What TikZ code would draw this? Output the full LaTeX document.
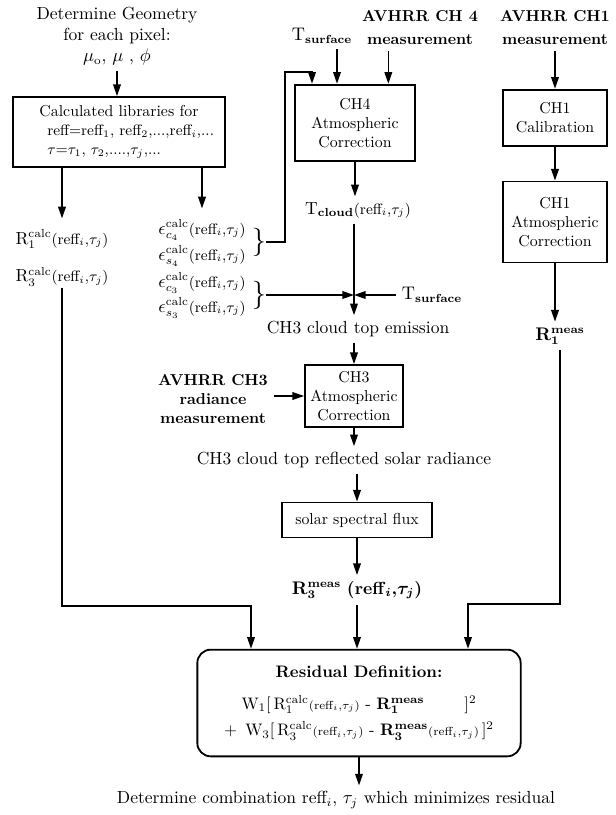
\documentclass[tikz,border=0pt]{standalone}
\usepackage{bm}
\usetikzlibrary{arrows.meta,calc}
\tikzset{>={Triangle[length=7pt,width=4.6pt]},
  every node/.style={font=\fontsize{10.5}{12.6}\selectfont,align=center},
  procbox/.style={draw,line width=1.1pt,inner sep=2pt,font=\fontsize{9.5}{11.5}\selectfont},
  flow/.style={->,line width=.9pt},
  heading/.style={font=\fontsize{9.5}{11.5}\selectfont\bfseries},
  calclbl/.style={inner ysep=.5pt},
  brk/.style={font=\fontsize{17}{17}\selectfont,inner sep=0pt}}

\begin{document}
\begin{tikzpicture}[x=.6pt,y=-.6pt]
% coordinates are pixels of the 616x815 sheet, y downwards
\useasboundingbox (0,0) rectangle (616,815);
% library branch
\node (geom) at (117,36) {Determine Geometry\\for each pixel:\\$\mu_{\mathrm o}$, $\mu$ , $\phi$};
\node[procbox,minimum width=127pt,minimum height=42pt] (libs) at (119,132) {Calculated libraries for\\
  \makebox[86pt][l]{\small reff=reff$_1$, reff$_2$,...,reff$_i$,...}\\
  \makebox[86pt][l]{\small$\tau$=$\tau_1$, $\tau_2$,....,$\tau_j$,...}};
\node[calclbl] (rcalc) at (62,258) {R$^{\rm calc}_1${\small(reff$_i$,$\tau_j$)}\\[10pt]R$^{\rm calc}_3${\small(reff$_i$,$\tau_j$)}};
\node[calclbl] (ec4) at (202,230) {$\epsilon^{\rm calc}_{c_4}${\small(reff$_i$,$\tau_j$)}};
\node[calclbl] (es4) at (202,256) {$\epsilon^{\rm calc}_{s_4}${\small(reff$_i$,$\tau_j$)}};
\node[calclbl] (ec3) at (202,283) {$\epsilon^{\rm calc}_{c_3}${\small(reff$_i$,$\tau_j$)}};
\node[calclbl] (es3) at (202,308) {$\epsilon^{\rm calc}_{s_3}${\small(reff$_i$,$\tau_j$)}};
\node[brk] (bra) at (259,242) {\}};
\node[brk] (brb) at (259,295) {\}};
\draw[flow] (geom.south) -- (geom.south |- libs.north);
\draw[flow,shorten >=6pt] (libs.south -| rcalc) -- (rcalc.north);
\draw[flow,shorten >=6pt] (libs.south -| ec4) -- (ec4.north);
% channel 4 branch
\node (tsurfa) at (322,36) {$\mathrm{T}_{\mathbf{surface}}$};
\node[heading] (avhrr4) at (420,28) {AVHRR CH 4\\[2.3pt]measurement};
\node[procbox,minimum width=72pt,minimum height=46pt] (ch4) at (355,123) {CH4\\Atmospheric\\Correction};
\node (tcloud) at (358,210) {T$_{\mathbf{cloud}}${\small(reff$_i$,$\tau_j$)}};
\coordinate (fbk) at (285,72);
\coordinate (junc) at (354,295);
\node (tsurfb) at (432,295) {$\mathrm{T}_{\mathbf{surface}}$};
\node (emis) at (358,329) {CH3 cloud top emission};
\draw[flow] ([xshift=9pt]tsurfa.south) -- ([xshift=9pt]tsurfa.south |- ch4.north);
\draw[flow] ([xshift=-19pt]avhrr4.south) -- ([xshift=-19pt]avhrr4.south |- ch4.north);
\draw[flow] (bra.east) -| (fbk) -| ($(ch4.north)+(-43,0)$);
\draw[flow] (ch4.south) -- (ch4.south |- tcloud.north);
\draw[line width=.9pt] (tcloud.south -| junc) -- (junc);
\draw[flow] (brb.east) -- (junc);
\draw[flow] (tsurfb.west) -- (junc);
\draw[flow] (junc) -- (junc |- emis.north);
% channel 3 branch
\node[procbox,minimum width=58.8pt,minimum height=37.2pt] (ch3) at (354,396) {CH3\\Atmospheric\\Correction};
\node[heading] (avhrr3) at (213,399) {AVHRR CH3\\radiance\\measurement};
\node (refl) at (344,460) {CH3 cloud top reflected solar radiance};
\node[procbox,minimum width=90pt,minimum height=21pt] (flux) at (357,520) {solar spectral flux};
\node (r3meas) at (357,590) {$\mathbf{R}^{\mathbf{meas}}_{\mathbf 3}$ \textbf{(reff}$_{\bm i}$\textbf{,}$\bm\tau_{\bm j}$\textbf{)}};
\draw[flow] (emis.south -| ch3) -- (ch3.north);
\draw[flow] (avhrr3.east |- ch3) -- (ch3.west);
\draw[flow] (ch3.south) -- (ch3.south |- refl.north);
\draw[flow] (flux.north |- refl.south) -- (flux.north);
\draw[flow] (flux.south) -- (flux.south |- r3meas.north);
% channel 1 branch
\node[heading] (avhrr1) at (555,28) {AVHRR CH1\\[2.3pt]measurement};
\node[procbox,minimum width=62pt,minimum height=34pt] (cal1) at (555,118) {CH1\\Calibration};
\node[procbox,minimum width=62pt,minimum height=48.6pt] (atm1) at (555,222) {CH1\\Atmospheric\\Correction};
\node (r1meas) at (560,336) {$\mathbf{R}^{\mathbf{meas}}_{\mathbf 1}$};
\draw[flow] (avhrr1) -- (cal1);
\draw[flow] (cal1) -- (atm1);
\draw[flow] (atm1.south) -- (atm1.south |- r1meas.north);
% residual
\node[procbox,rounded corners=8pt,minimum width=194pt,minimum height=64pt,font=\fontsize{10}{16}\selectfont] (resid) at (359,703) {\textbf{Residual Definition:}\\[3pt]
  W$_1$[\,R$^{\rm calc}_1${\scriptsize(reff$_i$,$\tau_j$)} - $\mathbf{R}^{\mathbf{meas}}_{\mathbf 1}$\hspace{2.4em}]$^2$\\
  + \,W$_3$[\,R$^{\rm calc}_3${\scriptsize(reff$_i$,$\tau_j$)} - $\mathbf{R}^{\mathbf{meas}}_{\mathbf 3}${\scriptsize(reff$_i$,$\tau_j$)}\,]$^2$};
\node (det) at (336,800) {Determine combination reff$_i$, $\tau_j$ which minimizes residual};
\coordinate (lbend) at (251,606);
\coordinate (rbend) at (468,604);
\draw[flow] (rcalc.south) |- (lbend) -- (lbend |- resid.north);
\draw[flow] (r3meas.south) -- (r3meas.south |- resid.north);
\draw[flow] (r1meas.south) |- (rbend) -- (rbend |- resid.north);
\draw[flow] (resid.south) -- (resid.south |- det.north);
\end{tikzpicture}
\end{document}
